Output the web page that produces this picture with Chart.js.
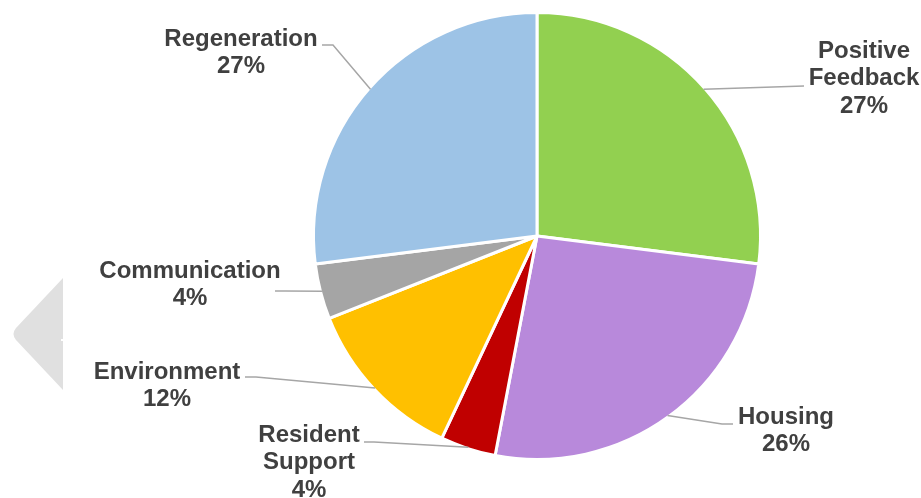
<!DOCTYPE html>
<html lang="en">
<head>
    <meta charset="UTF-8">
    <script src="https://cdn.jsdelivr.net/npm/chart.js@4.4.0/dist/chart.umd.min.js"></script>
    <title>Feedback by theme</title>
    <style>
        body { margin: 0; background: #fff; }
    </style>
</head>
<body>
    <canvas id="chart" width="921" height="498"></canvas>

    <script>
        // feedback themes, clockwise from the top
        const categories = ['Positive Feedback', 'Housing', 'Resident Support', 'Environment', 'Communication', 'Regeneration'];
        const shares = [27, 26, 4, 12, 4, 27]; // percent
        const sliceColours = ['#92d050', '#b889db', '#c00000', '#ffc000', '#a5a5a5', '#9dc3e6'];

        // where each label sits and how its leader line bends (x, y = centre of first text line)
        const labelLayout = [
            { x: 864, y: 51, lines: ['Positive', 'Feedback'], lead: [[804, 86]] },
            { x: 786, y: 417, lines: ['Housing'], lead: [[733, 424], [722, 424]] },
            { x: 309, y: 435, lines: ['Resident', 'Support'], lead: [[364, 442], [374, 442]] },
            { x: 167, y: 372, lines: ['Environment'], lead: [[245, 377], [256, 377]] },
            { x: 190, y: 271, lines: ['Communication'], lead: [[275, 291], [285, 291]] },
            { x: 241, y: 39, lines: ['Regeneration'], lead: [[322, 45], [333, 45]] }
        ];

        // grey back arrow sitting on the left of the slide
        const backArrow = {
            id: 'backArrow',
            beforeDraw(chart) {
                const c = chart.ctx;
                c.save();
                c.fillStyle = '#e0e0e0';
                c.beginPath();
                c.moveTo(63, 278);
                c.lineTo(16, 328);
                c.quadraticCurveTo(11, 334, 16, 340);
                c.lineTo(63, 390);
                c.closePath();
                c.fill();
                c.fillStyle = '#fff';
                c.fillRect(61, 339, 2, 2);
                c.restore();
            }
        };

        // outside labels with leader lines to the middle of each slice edge
        const sliceLabels = {
            id: 'sliceLabels',
            afterDatasetsDraw(chart) {
                const c = chart.ctx;
                const arcs = chart.getDatasetMeta(0).data;
                c.save();
                arcs.forEach((arc, i) => {
                    const p = arc.getProps(['x', 'y', 'startAngle', 'endAngle', 'outerRadius'], true);
                    const mid = (p.startAngle + p.endAngle) / 2;
                    const r = p.outerRadius - 1.5;
                    const ex = p.x + Math.cos(mid) * r;
                    const ey = p.y + Math.sin(mid) * r;
                    const lay = labelLayout[i];

                    c.strokeStyle = '#a6a6a6';
                    c.lineWidth = 1.5;
                    c.beginPath();
                    c.moveTo(lay.lead[0][0], lay.lead[0][1]);
                    lay.lead.slice(1).forEach(pt => c.lineTo(pt[0], pt[1]));
                    c.lineTo(ex, ey);
                    c.stroke();

                    const text = lay.lines.concat([shares[i] + '%']);
                    c.fillStyle = '#404040';
                    c.font = 'bold 24px "Liberation Sans", Arial, sans-serif';
                    c.textAlign = 'center';
                    c.textBaseline = 'middle';
                    text.forEach((t, k) => c.fillText(t, lay.x, lay.y + k * 27.5));
                });
                c.restore();
            }
        };

        const ctx = document.getElementById('chart').getContext('2d');
        new Chart(ctx, {
            type: 'pie',
            data: {
                labels: categories,
                datasets: [{
                    data: shares,
                    backgroundColor: sliceColours,
                    borderColor: '#ffffff',
                    borderWidth: 3,
                    hoverOffset: 0
                }]
            },
            options: {
                responsive: false,
                animation: false,
                layout: { padding: { left: 312, right: 159, top: 11, bottom: 37 } },
                plugins: {
                    legend: { display: false },
                    tooltip: { enabled: false }
                }
            },
            plugins: [backArrow, sliceLabels]
        });
    </script>
</body>
</html>
